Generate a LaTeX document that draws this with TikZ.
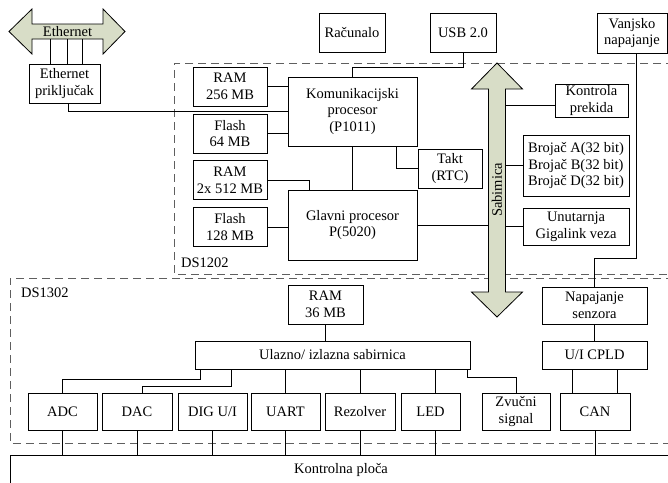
\documentclass[tikz,border=0pt]{standalone}
\usepackage{fontspec}
\setmainfont{Liberation Serif}
\definecolor{arrfill}{RGB}{216,221,199}
\definecolor{dgray}{RGB}{95,95,95}
\begin{document}
\begin{tikzpicture}[x=1pt,y=-1pt,
  font=\fontsize{14.5}{16.7}\selectfont,
  bx/.style={draw, line width=0.8pt, inner sep=0pt, align=center},
  ln/.style={line width=0.8pt},
  dsh/.style={draw=dgray, line width=0.8pt, dash pattern=on 8pt off 5pt},
  bigarrow/.style={draw, line width=0.8pt, fill=arrfill},
  lbl/.style={inner sep=0pt, align=center}]
\useasboundingbox (0,0) rectangle (668,482);
\clip (0,0) rectangle (668,482);

% dashed module frames
\draw[dsh] (700,63) -- (174,63) -- (174,274) -- (700,274);
\draw[dsh] (700,278) -- (10,278) -- (10,443) -- (700,443);
\node[lbl, anchor=west] (ds1202) at (181,263) {DS1202};
\node[lbl, anchor=west] (ds1302) at (21,293) {DS1302};

% Ethernet double arrow
\draw[bigarrow] (9,31.5) -- (32,9) -- (32,24) -- (103,24) -- (103,9) -- (125,31.5)
  -- (103,54) -- (103,39) -- (32,39) -- (32,54) -- cycle;
\node[lbl, minimum width=71, minimum height=15] (eth) at (67.5,31.5) {Ethernet};
\node[bx, minimum width=71, minimum height=39] (ethp) at (64.5,83.5) {Ethernet\\priključak};
\foreach \dx in {-17.5,-0.5,14.5} {
  \path ([xshift=\dx pt]eth.south) coordinate (et);
  \draw[ln] (et) -- (et |- ethp.north);
}

% top boxes
\node[bx, minimum width=66, minimum height=39] (rac) at (352,32.5) {Računalo};
\node[bx, minimum width=66, minimum height=39] (usb) at (463,32.5) {USB 2.0};
\node[bx, minimum width=70, minimum height=40] (vanj) at (632,33) {Vanjsko\\napajanje};

% DS1202 content
\node[bx, minimum width=129, minimum height=69] (kom) at (352.5,111.5) {Komunikacijski\\procesor\\(P1011)};
\node[bx, minimum width=129, minimum height=70] (glav) at (352.5,225) {Glavni procesor\\P(5020)};
\node[bx, minimum width=74, minimum height=39] (ram256) at (230,86.5) {RAM\\256 MB};
\node[bx, minimum width=74, minimum height=39] (fl64) at (230,133.5) {Flash\\64 MB};
\node[bx, minimum width=74, minimum height=39] (ram2) at (230,180) {RAM\\2x 512 MB};
\node[bx, minimum width=74, minimum height=39] (fl128) at (230,227) {Flash\\128 MB};
\node[bx, minimum width=64, minimum height=39] (takt) at (450,168.5) {Takt\\(RTC)};
\node[bx, minimum width=73, minimum height=33] (kprek) at (591.5,100.5) {Kontrola\\prekida};
\node[bx, minimum width=106, minimum height=61] (broj) at (576,165.5) {Brojač A(32 bit)\\Brojač B(32 bit)\\Brojač D(32 bit)};
\node[bx, minimum width=106, minimum height=37] (giga) at (576,226.5) {Unutarnja\\Gigalink veza};

% DS1302 content
\node[bx, minimum width=75, minimum height=39] (ram36) at (325.5,304.5) {RAM\\36 MB};
\node[bx, minimum width=275, minimum height=28] (ulaz) at (332.5,355) {Ulazno/ izlazna sabirnica};
\node[bx, minimum width=105, minimum height=37] (nap) at (594.5,305.5) {Napajanje\\senzora};
\node[bx, minimum width=105, minimum height=28] (cpld) at (594.5,355) {U/I CPLD};
\node[bx, minimum width=69, minimum height=37] (adc) at (62.5,411.5) {ADC};
\node[bx, minimum width=70, minimum height=37] (dac) at (137,411.5) {DAC};
\node[bx, minimum width=69, minimum height=37] (dig) at (212.5,411.5) {DIG U/I};
\node[bx, minimum width=69, minimum height=37] (uart) at (285.5,411.5) {UART};
\node[bx, minimum width=70, minimum height=37] (rez) at (360,411.5) {Rezolver};
\node[bx, minimum width=59, minimum height=37] (led) at (430.5,411.5) {LED};
\node[bx, minimum width=68, minimum height=37] (zv) at (516,411.5) {Zvučni\\signal};
\node[bx, minimum width=70, minimum height=37] (can) at (595,411.5) {CAN};

% Kontrolna ploca
\node[bx, minimum width=690, minimum height=55, anchor=north west] (kp) at (10,455) {};
\node[lbl] (kpl) at (341,470) {Kontrolna ploča};

% Sabimica arrow
\draw[bigarrow] (497,63) -- (522.5,89) -- (505.5,89) -- (505.5,292) -- (522.5,292)
  -- (497,317) -- (471.5,292) -- (488.5,292) -- (488.5,89) -- (471.5,89) -- cycle;
\node[lbl, minimum width=17, minimum height=203] (sab) at (497,190.5) {};
\node[lbl, rotate=90] (sabt) at (497,190) {Sabimica};

% connectors top part
\path ([xshift=3.5pt]ethp.south) coordinate (e1);
\draw[ln] (e1) |- (kom.west);
\draw[ln] (usb.south) -- ++(0,15) -| (kom.north);
\draw[ln] (ram256.east) -- (ram256.east -| kom.west);
\draw[ln] (fl64.east) -- (fl64.east -| kom.west);
\draw[ln] (ram2.east) -| ([xshift=22pt]glav.north west);
\draw[ln] (fl128.east) -- (fl128.east -| glav.west);
\draw[ln] (kom.south) -- (glav.north);
\draw[ln] ([xshift=-21pt]kom.south east) |- (takt.west);
\draw[ln] (glav.east) -- (glav.east -| sab.west);
\path ([yshift=-5pt]kprek.west) coordinate (kp1);
\draw[ln] (kp1) -- (kp1 -| sab.east);
\draw[ln] (broj.west) -- (broj.west -| sab.east);
\draw[ln] (giga.west) -- (giga.west -| sab.east);
\path ([xshift=4pt]vanj.south) coordinate (v1);
\draw[ln] (v1) |- ([yshift=28pt]nap.north) -- (nap.north);

% connectors bottom part
\draw[ln] (ram36.south) -- (ram36.south |- ulaz.north);
\path ([xshift=6pt]ulaz.south west) coordinate (u1);
\draw[ln] (u1) |- ([yshift=13pt]adc.north) -- (adc.north);
\path ([xshift=37pt]ulaz.south west) coordinate (u2);
\draw[ln] (u2) |- ([xshift=5pt,yshift=6pt]dac.north) -- ([xshift=5pt]dac.north);
\draw[ln] (uart.north) -- (uart.north |- ulaz.south);
\draw[ln] (rez.north) -- (rez.north |- ulaz.south);
\path ([xshift=4.5pt]led.north) coordinate (l1);
\draw[ln] (l1) -- (l1 |- ulaz.south);
\draw[ln] ([xshift=-3pt]ulaz.south east) |- ([yshift=15pt]zv.north) -- (zv.north);
\draw[ln] (nap.south) -- (cpld.north);
\foreach \dx in {-22.5,22.5} {
  \path ([xshift=\dx pt]cpld.south) coordinate (c1);
  \draw[ln] (c1) -- (c1 |- can.north);
}
\foreach \n in {adc,dac,dig,uart,rez,can} {
  \draw[ln] (\n.south) -- (\n.south |- kp.north);
}
\path ([xshift=4.5pt]led.south) coordinate (l2);
\draw[ln] (l2) -- (l2 |- kp.north);
\end{tikzpicture}
\end{document}
